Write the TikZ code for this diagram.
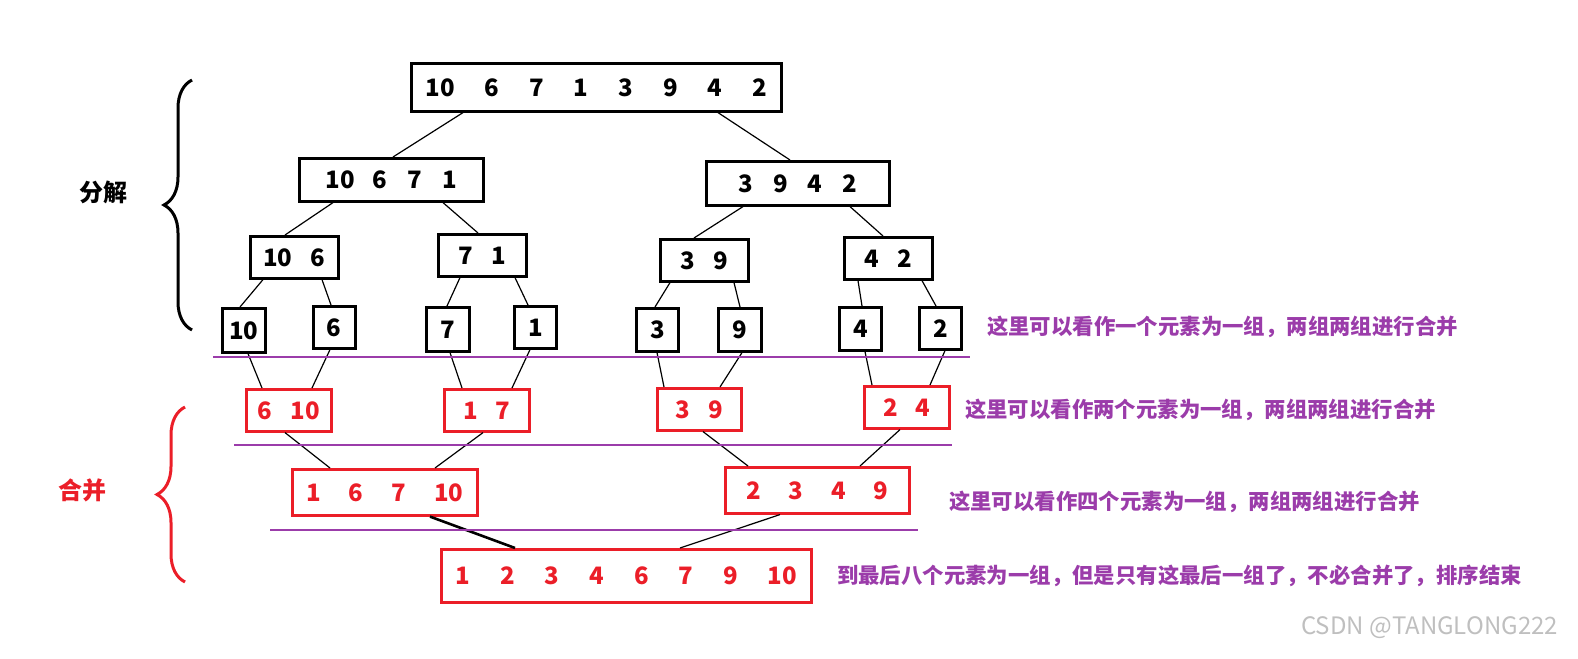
\documentclass[tikz,border=0pt]{standalone}
\usepackage{fontspec}
\setmainfont{Noto Sans CJK SC}
\usetikzlibrary{calc,decorations.pathreplacing}
\definecolor{pur}{RGB}{155,60,170}
\definecolor{rd}{RGB}{235,30,40}
\newcommand{\gp}{\hspace{15pt}}
\tikzset{
 bx/.style={draw=black,line width=1.3pt,inner sep=0pt,font=\bfseries\fontsize{12}{14}\selectfont,anchor=north west},
 rbx/.style={bx,draw=rd,text=rd},
 lbl/.style={text=pur,font=\bfseries\fontsize{10.7}{12}\selectfont,anchor=west},
 cn/.style={line width=0.6pt},
 sep/.style={draw=pur,line width=1.2pt}
}
\begin{document}
\begin{tikzpicture}[x=0.5pt,y=-0.5pt]
\useasboundingbox (0,0) rectangle (1578,658);
\newcommand{\B}[6]{\node[#1,minimum width=#4*0.5pt,minimum height=#5*0.5pt] (#6) at (#2,#3) {};}
\B{bx}{410}{62}{370}{48}{t}\node[font=\bfseries\fontsize{12}{14}\selectfont] at (t) {10\gp 6\gp 7\gp 1\gp 3\gp 9\gp 4\gp 2};
\B{bx}{298}{157}{184}{43}{a}\node[font=\bfseries\fontsize{12}{14}\selectfont] at (a) {10\hspace{9pt}6\hspace{10pt}7\hspace{10pt}1};
\B{bx}{705}{160}{183}{44}{b}\node[font=\bfseries\fontsize{12}{14}\selectfont] at (b) {3\hspace{10pt}9\hspace{10pt}4\hspace{10pt}2};
\B{bx}{249}{235}{88}{42}{aa}\node[font=\bfseries\fontsize{12}{14}\selectfont] at (aa) {10\hspace{9pt}6};
\B{bx}{437}{233}{88}{42}{ab}\node[font=\bfseries\fontsize{12}{14}\selectfont] at (ab) {7\hspace{9pt}1};
\B{bx}{659}{238}{88}{42}{ba}\node[font=\bfseries\fontsize{12}{14}\selectfont] at (ba) {3\hspace{9pt}9};
\B{bx}{843}{236}{88}{42}{bb}\node[font=\bfseries\fontsize{12}{14}\selectfont] at (bb) {4\hspace{9pt}2};
\B{bx}{221}{307}{43}{44}{l1}\node[font=\bfseries\fontsize{12}{14}\selectfont] at (l1) {10};
\B{bx}{312}{305}{42}{42}{l2}\node[font=\bfseries\fontsize{12}{14}\selectfont] at (l2) {6};
\B{bx}{425}{306}{43}{44}{l3}\node[font=\bfseries\fontsize{12}{14}\selectfont] at (l3) {7};
\B{bx}{513}{305}{42}{42}{l4}\node[font=\bfseries\fontsize{12}{14}\selectfont] at (l4) {1};
\B{bx}{635}{307}{42}{43}{l5}\node[font=\bfseries\fontsize{12}{14}\selectfont] at (l5) {3};
\B{bx}{717}{307}{43}{43}{l6}\node[font=\bfseries\fontsize{12}{14}\selectfont] at (l6) {9};
\B{bx}{838}{306}{42}{43}{l7}\node[font=\bfseries\fontsize{12}{14}\selectfont] at (l7) {4};
\B{bx}{918}{306}{42}{42}{l8}\node[font=\bfseries\fontsize{12}{14}\selectfont] at (l8) {2};
\B{rbx}{245}{388}{85}{42}{r1}\node[text=rd,font=\bfseries\fontsize{12}{14}\selectfont] at (r1) {6\hspace{9pt}10};
\B{rbx}{443}{388}{85}{42}{r2}\node[text=rd,font=\bfseries\fontsize{12}{14}\selectfont] at (r2) {1\hspace{9pt}7};
\B{rbx}{656}{387}{84}{42}{r3}\node[text=rd,font=\bfseries\fontsize{12}{14}\selectfont] at (r3) {3\hspace{9pt}9};
\B{rbx}{863}{385}{85}{42}{r4}\node[text=rd,font=\bfseries\fontsize{12}{14}\selectfont] at (r4) {2\hspace{9pt}4};
\B{rbx}{291}{468}{185}{46}{m1}\node[text=rd,font=\bfseries\fontsize{12}{14}\selectfont] at (m1) {1\hspace{14pt}6\hspace{14pt}7\hspace{14pt}10};
\B{rbx}{724}{466}{184}{46}{m2}\node[text=rd,font=\bfseries\fontsize{12}{14}\selectfont] at (m2) {2\hspace{14pt}3\hspace{14pt}4\hspace{14pt}9};
\B{rbx}{440}{548}{370}{53}{f}\node[text=rd,font=\bfseries\fontsize{12}{14}\selectfont] at (f) {1\gp 2\gp 3\gp 4\gp 6\gp 7\gp 9\gp 10};
\newcommand{\C}[4]{\draw[cn] ($(#1.south west)+(#2,0)$) -- ($(#3.north west)+(#4,0)$);}
\C{t}{53}{a}{95}\C{t}{308}{b}{85}
\C{a}{35}{aa}{36}\C{a}{145}{ab}{41}\C{b}{38}{ba}{35}\C{b}{145}{bb}{40}
\C{aa}{14}{l1}{19}\C{aa}{73}{l2}{19}\C{ab}{23}{l3}{22}\C{ab}{78}{l4}{15}
\C{ba}{11}{l5}{20}\C{ba}{75}{l6}{23}\C{bb}{15}{l7}{24}\C{bb}{79}{l8}{18}
\C{l1}{27}{r1}{17}\C{l2}{18}{r1}{67}\C{l3}{25}{r2}{19}\C{l4}{17}{r2}{69}
\C{l5}{22}{r3}{8}\C{l6}{25}{r3}{64}\C{l7}{27}{r4}{9}\C{l8}{27}{r4}{67}
\C{r1}{40}{m1}{39}\C{r2}{40}{m1}{144}\C{r3}{47}{m2}{24}\C{r4}{37}{m2}{136}
\draw[line width=1.3pt] ($(m1.south west)+(139,0)$) -- ($(f.north west)+(75,0)$);
\C{m2}{56}{f}{240}
\draw[sep] (213,357) -- (970,357);
\draw[sep] (234,445) -- (952,445);
\draw[sep] (270,530) -- (918,530);
\node[lbl] (t1) at (980,327) {这里可以看作一个元素为一组，两组两组进行合并};
\node[lbl] (t2) at (958,410) {这里可以看作两个元素为一组，两组两组进行合并};
\node[lbl] (t3) at (942,502) {这里可以看作四个元素为一组，两组两组进行合并};
\node[lbl] (t4) at (830,576) {到最后八个元素为一组，但是只有这最后一组了，不必合并了，排序结束};
\draw[line width=1.5pt,decorate,decoration={brace,amplitude=14pt}] (192,330) -- (192,80);
\node[font=\bfseries\fontsize{12}{14}\selectfont] (d) at (103,192) {分解};
\draw[rd,line width=1.5pt,decorate,decoration={brace,amplitude=14pt}] (185,582) -- (185,407);
\node[text=rd,font=\bfseries\fontsize{12}{14}\selectfont] (h) at (82,490) {合并};
\node[text=black!25,font=\fontsize{12}{14}\selectfont,anchor=east] (w) at (1565,628) {CSDN @TANGLONG222};
\end{tikzpicture}
\end{document}
